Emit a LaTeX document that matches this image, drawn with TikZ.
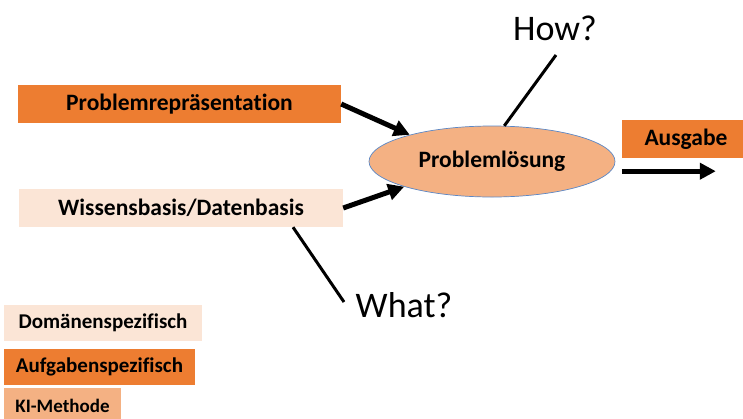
\documentclass[tikz,border=0pt]{standalone}
\usepackage{fontspec}
\setmainfont[Ligatures=NoCommon]{Carlito}
\usetikzlibrary{arrows.meta,shapes.geometric}
\definecolor{orangeA}{HTML}{ED7D31}
\definecolor{peachL}{HTML}{FBE5D6}
\definecolor{peachM}{HTML}{F4B183}
\definecolor{rimblue}{HTML}{5B87C5}
\tikzset{
  box/.style={rectangle, inner sep=0pt, font=\bfseries\fontsize{23.5}{26}\selectfont},
  legendbox/.style={rectangle, inner sep=0pt, font=\bfseries\fontsize{21}{24}\selectfont},
  question/.style={inner sep=0pt, anchor=base, font=\fontsize{36}{40}\selectfont},
  flow/.style={line width=5pt, -{Triangle[length=16pt,width=16pt]}},
  hint/.style={line width=3pt}
}
\begin{document}
\begin{tikzpicture}[x=1pt,y=-1pt]
\useasboundingbox (0,0) rectangle (743,418);
\clip (0,0) rectangle (743,418);

% inputs
\node[box, fill=orangeA, minimum width=323pt, minimum height=38pt] (prob) at (179.5,104) {Problemrepräsentation};
\node[box, fill=peachL, minimum width=324pt, minimum height=38pt] (wiss) at (181,208) {Wissensbasis/Datenbasis};

% solver
\node[ellipse, draw=rimblue, line width=0.7pt, fill=peachM, minimum width=246pt, minimum height=71pt, inner sep=0pt,
      font=\bfseries\fontsize{23.5}{26}\selectfont] (ell) at (492,161.5) {Problemlösung};

% output (box runs past the right edge)
\node[box, fill=orangeA, minimum width=128pt, minimum height=38pt] (out) at (686,139) {Ausgabe};
\coordinate (outstart) at ([yshift=-13pt]out.south west);
\coordinate (outend) at ([xshift=94pt]outstart);

% questions
\node[question] (how) at (555,40) {How?};
\node[question] (what) at (404,317) {What?};
\coordinate (howend) at (556,55);
\coordinate (whatend) at (344,302);

% legend (last box runs past the bottom edge)
\node[legendbox, fill=peachL, minimum width=198pt, minimum height=36pt] (leg1) at (103,323) {Domänenspezifisch};
\node[legendbox, fill=orangeA, minimum width=191pt, minimum height=36pt] (leg2) at (99.5,367) {Aufgabenspezifisch};
\node[legendbox, fill=peachM, minimum width=117pt, minimum height=36pt,
      font=\bfseries\fontsize{19}{22}\selectfont] (leg3) at (62.5,406) {KI-Methode};

% connectors
\draw[flow] (prob.east) -- (ell.162);
\draw[flow] (wiss.east) -- (ell.196);
\draw[flow] (outstart) -- (outend);
\draw[hint] (ell.71) -- (howend);
\draw[hint] ([xshift=112pt]wiss.south) -- (whatend);
\end{tikzpicture}
\end{document}
